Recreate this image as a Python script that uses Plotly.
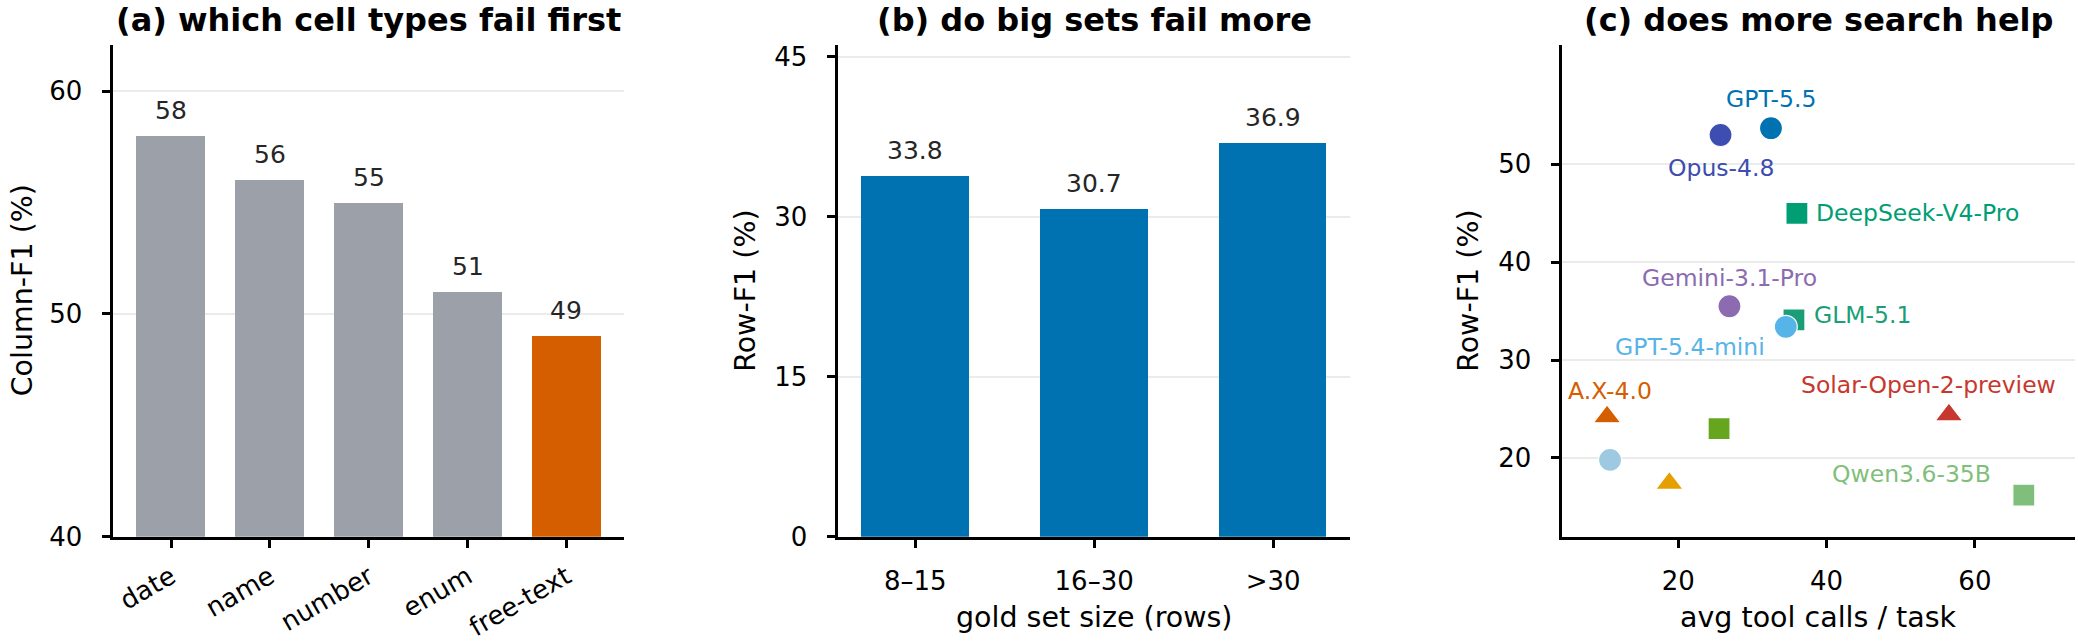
import plotly.graph_objects as go

# ---------------- data ----------------
cell_types = ["date", "name", "number", "enum", "free-text"]
column_f1 = [58, 56, 55, 51, 49]

set_sizes = ["8–15", "16–30", ">30"]
row_f1_by_size = [33.8, 30.7, 36.9]

models = ["Opus-4.8", "GPT-5.5", "DeepSeek-V4-Pro", "Gemini-3.1-Pro", "GLM-5.1",
          "GPT-5.4-mini", "A.X-4.0", "", "", "", "Solar-Open-2-preview", "Qwen3.6-35B"]
tool_calls = [25.7, 32.5, 36.0, 26.9, 35.6, 34.5, 10.4, 10.8, 18.8, 25.5, 56.5, 66.6]
row_f1 = [53.0, 53.7, 45.0, 35.5, 34.1, 33.4, 24.2, 19.8, 17.4, 23.0, 24.4, 16.2]

# ---------------- styles ----------------
W, H = 2078, 642
FONT = "DejaVu Sans"
TICK = 26
AX_T = 28.5
TITLE = 32
LAB = 23.5
BARLAB = 25
GRID = "#ebebeb"

sym = ["circle", "circle", "square", "circle", "square", "circle",
       "triangle-up", "circle", "triangle-up", "square", "triangle-up", "square"]
col = ["#3d4db0", "#0072b2", "#009e73", "#8c6bb1", "#1b9e77", "#56b4e9",
       "#d55e00", "#9ecae1", "#e69f00", "#66a61e", "#c8372d", "#7fbf7b"]
# label offsets in px: (dx, dy, xanchor)
lab_off = {
    "GPT-5.5": (0, -29, "center"),
    "Opus-4.8": (0, 33, "center"),
    "DeepSeek-V4-Pro": (17, 0, "left"),
    "Gemini-3.1-Pro": (0, -28, "center"),
    "GLM-5.1": (18, -5, "left"),
    "GPT-5.4-mini": (-19, 20, "right"),
    "A.X-4.0": (3, -26, "center"),
    "Solar-Open-2-preview": (-20, -30, "center"),
    "Qwen3.6-35B": (-31, -21, "right"),
}

def px(x):
    return x / W

def py(y):
    return 1 - y / H

top, bot = 45, 536.7
ydom = [py(bot), py(top)]
xdoms = [[px(113.3), px(624.3)], [px(838.3), px(1350)], [px(1562.3), px(2075)]]

fig = go.Figure()

bar_a_colors = ["#9ca0a8"] * (len(cell_types) - 1) + ["#d55e00"]
fig.add_trace(go.Bar(x=cell_types, y=column_f1, width=0.7, marker_color=bar_a_colors,
                     marker_line_width=0, xaxis="x", yaxis="y", showlegend=False))
fig.add_trace(go.Bar(x=set_sizes, y=row_f1_by_size, width=0.6, marker_color="#0072b2",
                     marker_line_width=0, xaxis="x2", yaxis="y2", showlegend=False))

for i in range(len(models)):
    size = 24 if sym[i] == "triangle-up" else (22 if sym[i] == "square" else 23)
    fig.add_trace(go.Scatter(x=[tool_calls[i]], y=[row_f1[i]], mode="markers",
                             marker=dict(symbol=sym[i], size=size, color=col[i],
                                         line=dict(color="white", width=1.2)),
                             name=models[i] or "model", xaxis="x3", yaxis="y3",
                             showlegend=False, cliponaxis=False))

ann = []
for c, v in zip(cell_types, column_f1):
    ann.append(dict(x=c, y=v, xref="x", yref="y", text=f"{v:g}", showarrow=False,
                    yanchor="bottom", yshift=9, font=dict(family=FONT, size=BARLAB, color="#262626")))
for c, v in zip(set_sizes, row_f1_by_size):
    ann.append(dict(x=c, y=v, xref="x2", yref="y2", text=f"{v:.1f}", showarrow=False,
                    yanchor="bottom", yshift=9, font=dict(family=FONT, size=BARLAB, color="#262626")))
for i, m in enumerate(models):
    if not m:
        continue
    dx, dy, xa = lab_off[m]
    ann.append(dict(x=tool_calls[i], y=row_f1[i], xref="x3", yref="y3", text=m, showarrow=False,
                    xanchor=xa, yanchor="middle", xshift=dx, yshift=-dy,
                    font=dict(family=FONT, size=LAB, color=col[i])))

titles = ["(a) which cell types fail first", "(b) do big sets fail more", "(c) does more search help"]
for t, d in zip(titles, xdoms):
    ann.append(dict(x=(d[0] + d[1]) / 2, y=py(20), xref="paper", yref="paper", text=f"<b>{t}</b>",
                    showarrow=False, xanchor="center", yanchor="middle",
                    font=dict(family=FONT, size=TITLE, color="black")))

ymid = py((top + bot) / 2)
for t, xp in zip(["Column-F1 (%)", "Row-F1 (%)", "Row-F1 (%)"], [22.5, 746, 1469]):
    ann.append(dict(x=px(xp), y=ymid, xref="paper", yref="paper", text=t, textangle=-90,
                    showarrow=False, xanchor="center", yanchor="middle",
                    font=dict(family=FONT, size=AX_T, color="black")))
for t, d in zip(["gold set size (rows)", "avg tool calls / task"], xdoms[1:]):
    ann.append(dict(x=(d[0] + d[1]) / 2, y=py(617), xref="paper", yref="paper", text=t,
                    showarrow=False, xanchor="center", yanchor="middle",
                    font=dict(family=FONT, size=AX_T, color="black")))

common = dict(showline=True, linecolor="black", linewidth=2.5, ticks="outside", ticklen=9,
              tickwidth=2.5, tickcolor="black", mirror=False, zeroline=False, automargin=False,
              tickfont=dict(family=FONT, size=TICK, color="black"))

fig.update_layout(
    template="none",
    width=W, height=H, autosize=False, margin=dict(l=0, r=0, t=0, b=0, pad=0),
    paper_bgcolor="white", plot_bgcolor="white", bargap=0,
    annotations=ann,
    xaxis=dict(domain=xdoms[0], anchor="y", range=[-0.585, 4.585], showgrid=False,
               tickangle=-30, ticklabelstandoff=3, **common),
    yaxis=dict(domain=ydom, anchor="x", range=[40, 62.07], tickvals=[40, 50, 60],
               showgrid=True, gridcolor=GRID, gridwidth=2, ticklabelstandoff=14, **common),
    xaxis2=dict(domain=xdoms[1], anchor="y2", range=[-0.43, 2.43], showgrid=False,
                ticklabelstandoff=10, **common),
    yaxis2=dict(domain=ydom, anchor="x2", range=[0, 46.1], tickvals=[0, 15, 30, 45],
                showgrid=True, gridcolor=GRID, gridwidth=2, ticklabelstandoff=14, **common),
    xaxis3=dict(domain=xdoms[2], anchor="y3", range=[4.36, 73.5], tickvals=[20, 40, 60],
                showgrid=False, ticklabelstandoff=10, **common),
    yaxis3=dict(domain=ydom, anchor="x3", range=[11.95, 62.2], tickvals=[20, 30, 40, 50],
                showgrid=True, gridcolor=GRID, gridwidth=2, ticklabelstandoff=14, **common),
)

fig.write_html("out.html")
